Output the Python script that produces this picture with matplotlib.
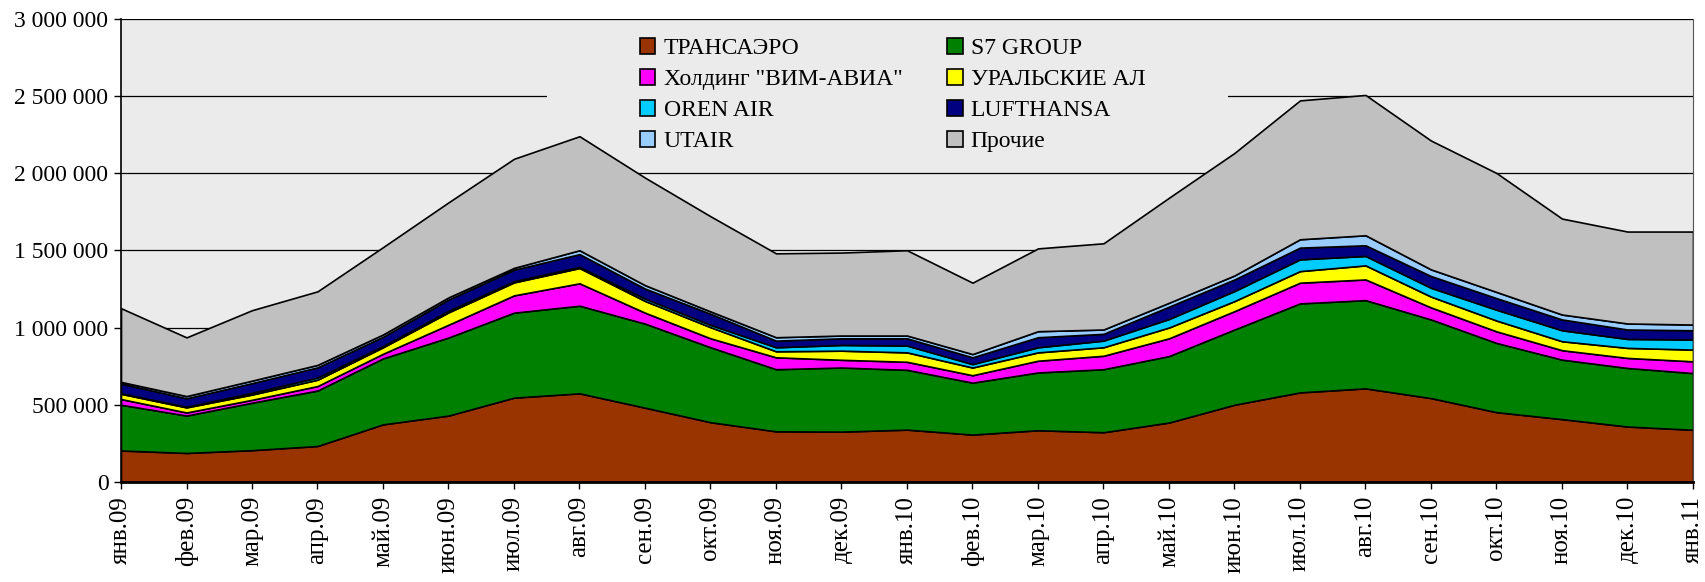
import matplotlib.pyplot as plt
from matplotlib.patches import Rectangle

plt.rcParams['font.family'] = ['Liberation Serif', 'DejaVu Serif']

# months
months = ['янв.09', 'фев.09', 'мар.09', 'апр.09', 'май.09', 'июн.09', 'июл.09', 'авг.09',
          'сен.09', 'окт.09', 'ноя.09', 'дек.09', 'янв.10', 'фев.10', 'мар.10', 'апр.10',
          'май.10', 'июн.10', 'июл.10', 'авг.10', 'сен.10', 'окт.10', 'ноя.10', 'дек.10', 'янв.11']

# passengers, thousands
transaero = [204, 188, 206, 233, 373, 430, 546, 574, 481, 387, 328, 326, 339,
             307, 335, 322, 385, 500, 580, 606, 543, 452, 407, 359, 338]
s7 = [296, 242, 307, 359, 427, 505, 550, 567, 544, 485, 402, 415, 387,
      336, 374, 408, 430, 487, 576, 571, 509, 448, 385, 379, 367]
vim = [37, 20, 19, 29, 30, 83, 112, 145, 71, 58, 77, 50, 52,
       48, 76, 87, 115, 119, 134, 134, 78, 75, 61, 65, 76]
ural = [34, 33, 34, 41, 42, 80, 84, 99, 76, 72, 39, 59, 61,
        50, 54, 55, 70, 65, 75, 91, 70, 70, 58, 65, 76]
oren = [4, 4, 11, 14, 8, 10, 8, 7, 15, 15, 26, 37, 44,
        22, 33, 43, 55, 65, 76, 61, 57, 70, 71, 58, 65]
lufthansa = [62, 55, 63, 66, 60, 73, 74, 83, 65, 72, 43, 43, 47,
             44, 65, 44, 80, 75, 76, 69, 76, 75, 70, 61, 60]
utair = [11, 14, 16, 16, 15, 14, 12, 25, 22, 15, 22, 18, 18,
         21, 39, 28, 25, 26, 54, 65, 43, 40, 32, 39, 37]
other = [477, 380, 456, 476, 565, 615, 706, 738, 696, 616, 543, 537, 552,
         462, 536, 558, 680, 793, 899, 908, 834, 770, 621, 595, 602]

names = ['ТРАНСАЭРО', 'S7 GROUP', 'Холдинг "ВИМ-АВИА"', 'УРАЛЬСКИЕ АЛ',
         'OREN AIR', 'LUFTHANSA', 'UTAIR', 'Прочие']
colors = ['#993300', '#008000', '#FF00FF', '#FFFF00',
          '#00CCFF', '#000080', '#99CCFF', '#C0C0C0']

series = [transaero, s7, vim, ural, oren, lufthansa, utair, other]
series = [[v * 1000 for v in s] for s in series]
x = list(range(len(months)))

fig = plt.figure(figsize=(17.06, 5.82), dpi=100)
ax = fig.add_axes([121 / 1706, 1 - 482 / 582, (1693 - 121) / 1706, (482 - 18.5) / 582])
ax.set_facecolor('#EBEBEB')

polys = ax.stackplot(x, *series, colors=colors, labels=names,
                     edgecolor='black', linewidth=1.2, zorder=2)

ax.set_xlim(0, len(months) - 1)
ax.set_ylim(0, 3000000)
ax.set_yticks(range(0, 3000001, 500000))
ax.set_yticklabels(['{:,}'.format(v).replace(',', ' ') for v in range(0, 3000001, 500000)])
ax.set_xticks(x)
ax.set_xticklabels(months, rotation=90)
ax.tick_params(axis='both', length=5, width=1, direction='out', color='black')
ax.tick_params(axis='y', labelsize=17, pad=4)
ax.tick_params(axis='x', labelsize=18, pad=5)

ax.yaxis.grid(True, color='black', linewidth=0.9)
ax.set_axisbelow(True)

ax.spines['top'].set_visible(False)
ax.spines['left'].set_linewidth(1.2)
ax.spines['bottom'].set_linewidth(2)
ax.spines['right'].set_color('#555555')

# legend box covers the gridline
ax.add_patch(Rectangle((6.5, 2290000), 10.4, 650000, facecolor='#EBEBEB',
                       edgecolor='none', zorder=1))

order = [0, 2, 4, 6, 1, 3, 5, 7]
leg = fig.legend([polys[i] for i in order], [names[i] for i in order],
                 loc='upper left', bbox_to_anchor=(640 / 1706, 1 - 38 / 582),
                 ncol=2, frameon=False, fontsize=17, handlelength=0.65,
                 handleheight=0.65, handletextpad=0.35, labelspacing=0.42,
                 columnspacing=1.9, borderpad=0, borderaxespad=0)

fig.savefig('out.png', dpi=100, facecolor='white')
